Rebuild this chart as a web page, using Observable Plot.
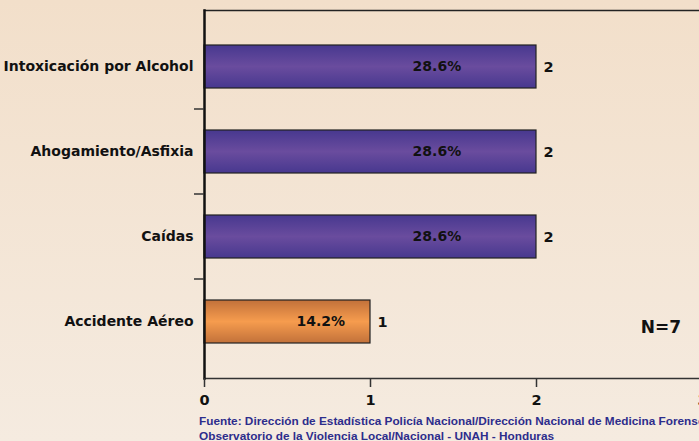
<!DOCTYPE html>
<html><head><meta charset="utf-8">
<script src="https://cdn.jsdelivr.net/npm/d3@7"></script>
<script src="https://cdn.jsdelivr.net/npm/@observablehq/plot@0.6"></script>
<style>
html,body{margin:0;padding:0;}
body{width:699px;height:441px;overflow:hidden;background:linear-gradient(#f2dfca,#f5ebe0);}
#wrap{position:relative;width:699px;height:441px;overflow:hidden;}
#chart svg{display:block;background:transparent;}
#caption{position:absolute;left:199px;top:414px;font:bold 11.8px "Liberation Sans",Arial,sans-serif;color:#2d2d8c;white-space:nowrap;line-height:15px;}
</style></head><body><div id="wrap"><div id="chart"></div><div id="caption"></div></div>
<script>
const categories = ["Intoxicación por Alcohol", "Ahogamiento/Asfixia", "Caídas", "Accidente Aéreo"];
const counts = [2, 2, 2, 1];
const percents = ["28.6%", "28.6%", "28.6%", "14.2%"];
const barKinds = ["purple", "purple", "purple", "orange"];
const xTicks = [0, 1, 2, 3];
const totalLabel = "N=7";
const captionLines = [
  "Fuente: Dirección de Estadística Policía Nacional/Dirección Nacional de Medicina Forense",
  "Observatorio de la Violencia Local/Nacional - UNAH - Honduras"
];

const data = categories.map((c, i) => ({category: c, count: counts[i], pct: percents[i], kind: barKinds[i]}));
const gradId = {purple: "url(#gPurple)", orange: "url(#gOrange)"};
const FONT = "DejaVu Sans, Verdana, sans-serif";

function defsMark() {
  const defs = d3.create("svg:defs");
  const mk = (id, edge, mid) => {
    const g = defs.append("linearGradient").attr("id", id).attr("x1", 0).attr("y1", 0).attr("x2", 0).attr("y2", 1);
    g.append("stop").attr("offset", "0%").attr("stop-color", edge);
    g.append("stop").attr("offset", "50%").attr("stop-color", mid);
    g.append("stop").attr("offset", "100%").attr("stop-color", edge);
  };
  mk("gPurple", "#47388f", "#6a4c9e");
  mk("gOrange", "#c2713a", "#f69c4e");
  return defs.node();
}

function yBoundaryTicks(index, scales) {
  const y = scales.y, bw = y.bandwidth();
  const g = d3.create("svg:g").attr("stroke", "#333").attr("stroke-width", 1.5);
  for (let i = 0; i < categories.length - 1; i++) {
    const yy = (y(categories[i]) + bw + y(categories[i + 1])) / 2;
    const x0 = scales.x(0);
    g.append("line").attr("x1", x0 - 10).attr("x2", x0).attr("y1", yy).attr("y2", yy);
  }
  return g.node();
}

const chart = Plot.plot({
  width: 699,
  height: 410,
  marginTop: 10,
  marginBottom: 32,
  marginLeft: 204,
  marginRight: 0,
  style: {fontFamily: FONT, background: "transparent"},
  x: {domain: [0, 3], range: [204, 702]},
  y: {domain: categories, paddingInner: 0.5, paddingOuter: 0.39},
  color: {type: "identity"},
  marks: [
    defsMark,
    Plot.frame({anchor: "top", stroke: "#222", strokeWidth: 1.5}),
    Plot.frame({anchor: "bottom", stroke: "#333", strokeWidth: 1.5}),
    Plot.barX(data, {x: "count", y: "category", fill: d => gradId[d.kind], stroke: "#222", strokeWidth: 1.2}),
    Plot.frame({anchor: "left", stroke: "#111", strokeWidth: 2.5}),
    yBoundaryTicks,
    Plot.axisY({tickSize: 0, tickPadding: 11, fontSize: 14, fontWeight: "bold", fill: "#111", label: null}),
    Plot.axisX({ticks: xTicks, tickSize: 9, tickPadding: 7, fontSize: 14.5, fontWeight: "bold", fill: "#111", stroke: "#333", strokeWidth: 1.5, label: null, tickFormat: d => String(d)}),
    Plot.text(data, {x: d => d.count * 0.7, y: "category", text: "pct", fontSize: 14, fontWeight: "bold", fill: "#111"}),
    Plot.text(data, {x: "count", y: "category", text: d => String(d.count), dx: 7, textAnchor: "start", fontSize: 14.5, fontWeight: "bold", fill: "#111"}),
    Plot.text([totalLabel], {x: () => 2.75, y: () => categories[3], text: d => d, dy: 6, fontSize: 17, fontWeight: "bold", fill: "#111"})
  ]
});
document.getElementById("chart").appendChild(chart);
document.getElementById("caption").innerHTML = captionLines.map(s => `<div>${s}</div>`).join("");
</script>
</body></html>
